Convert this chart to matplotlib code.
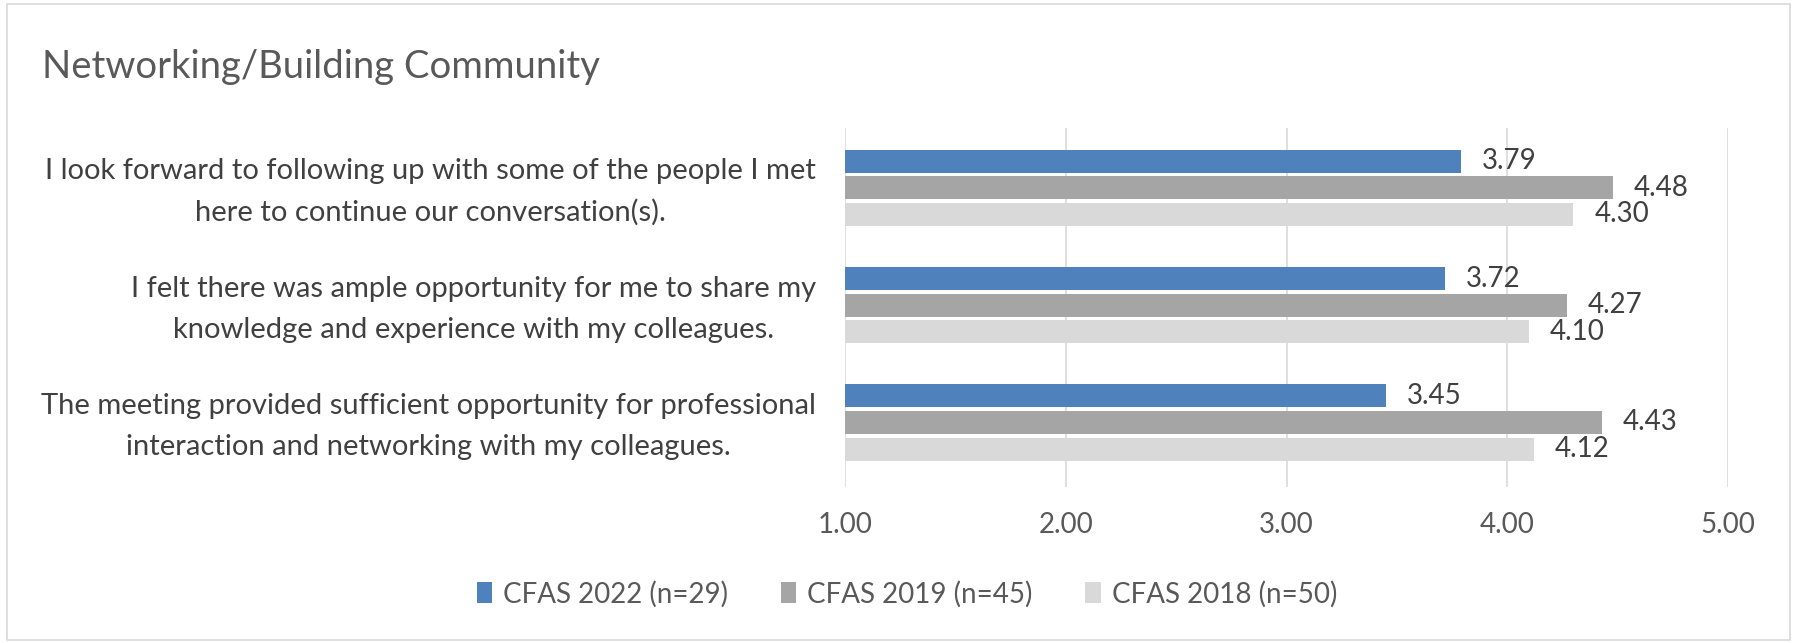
import matplotlib.pyplot as plt
import matplotlib.patches as mpatches
import numpy as np

plt.rcParams['font.family'] = ['Lato', 'DejaVu Sans']

questions = ['I look forward to following up with some of the people I met\nhere to continue our conversation(s).',
             'I felt there was ample opportunity for me to share my\nknowledge and experience with my colleagues.',
             'The meeting provided sufficient opportunity for professional\ninteraction and networking with my colleagues.']
series = ['CFAS 2022 (n=29)', 'CFAS 2019 (n=45)', 'CFAS 2018 (n=50)']
cfas_2022 = [3.79, 3.72, 3.45]
cfas_2019 = [4.48, 4.27, 4.43]
cfas_2018 = [4.30, 4.10, 4.12]
xticks = [1, 2, 3, 4, 5]
colors = ['#4f81bd', '#a5a5a5', '#d9d9d9']

fig = plt.figure(figsize=(17.98, 6.43), dpi=100)
# outer chart border
fig.patches.append(mpatches.Rectangle((7/1798, 3/643), 1783/1798, 636/643, transform=fig.transFigure,
                                      fill=False, edgecolor='#d9d9d9', linewidth=1.2))
ax = fig.add_axes([845/1798, 156/643, 883/1798, 359/643])

y = np.arange(len(questions))
h = 0.197
offs = [-0.227, 0, 0.227]
handles = []
for vals, off, c, lab in zip([cfas_2022, cfas_2019, cfas_2018], offs, colors, series):
    bars = ax.barh(y + off, np.array(vals) - 1, left=1, height=h, color=c, label=lab, zorder=3)
    ax.bar_label(bars, labels=['%.2f' % v for v in vals], padding=15, fontsize=20, color='#404040')
    handles.append(bars)

ax.set_xlim(1, 5)
ax.set_ylim(2.55, -0.51)
ax.set_xticks(xticks)
ax.set_xticklabels(['%.2f' % t for t in xticks])
ax.set_yticks(y)
ax.set_yticklabels([])
# category labels
for yi, q in zip(y, questions):
    ax.annotate(q, xy=(0, yi), xycoords=ax.get_yaxis_transform(), xytext=(-21, -3),
                textcoords='offset points', ha='right', va='center', multialignment='center',
                linespacing=1.7, fontsize=21, color='#404040')
ax.tick_params(axis='x', length=0, pad=18, labelsize=20, labelcolor='#595959')
ax.tick_params(axis='y', length=0)
ax.grid(axis='x', color='#d9d9d9', linewidth=1.2, zorder=0)
for s in ax.spines.values():
    s.set_visible(False)

fig.text(42/1798, 1 - 78/643, 'Networking/Building Community', fontsize=27.5, color='#595959', va='baseline')

fig.legend(handles=handles, labels=series, loc='center', bbox_to_anchor=(907/1798, 1 - 594/643), ncol=3,
           frameon=False, fontsize=20, labelcolor='#595959', handlelength=0.55, handleheight=0.8,
           handletextpad=0.4, columnspacing=1.9)

fig.savefig('out.png', dpi=100)
